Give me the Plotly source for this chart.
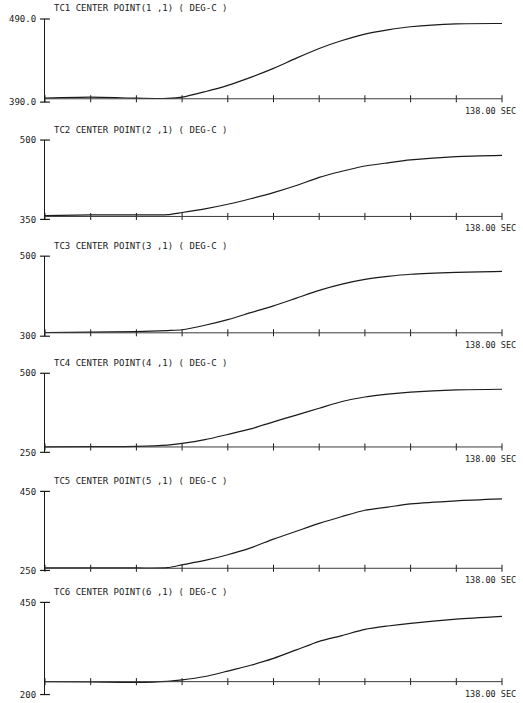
import plotly.graph_objects as go

# ---------------- data ----------------
TIME = [0, 13.8, 27.6, 37, 41.4, 48.3, 55.2, 62.1, 69, 75.9, 82.8, 89.7, 96.6, 103.5, 110.4, 124.2, 138]

TC1 = [394.8, 395.9, 394.8, 394.4, 395.9, 402.5, 410.2, 419.8, 430.6, 442.9, 454.5, 464.1, 471.8, 476.9, 480.7, 484.2, 484.6]
TC2 = [357.2, 358.4, 358.4, 359.0, 363.0, 370.0, 378.6, 389.0, 400.6, 414.0, 429.5, 441.0, 450.9, 457.0, 462.4, 468.8, 471.1]
TC3 = [309.3, 310.1, 311.6, 314.2, 316.2, 327.5, 341.5, 358.8, 375.9, 395.2, 414.6, 430.1, 441.8, 449.5, 454.9, 459.6, 461.9]
TC4 = [267.0, 268.0, 269.0, 273.0, 278.2, 290.0, 306.5, 324.0, 346.5, 367.9, 389.4, 410.8, 425.1, 434.2, 440.4, 447.5, 449.5]
TC5 = [256.3, 256.3, 256.3, 257.0, 264.2, 275.3, 289.6, 307.1, 329.3, 349.2, 369.0, 386.5, 402.3, 410.3, 418.2, 426.1, 430.9]
TC6 = [235.0, 234.1, 233.1, 235.9, 239.6, 248.9, 263.7, 279.4, 298.0, 321.1, 344.3, 360.0, 376.7, 385.9, 393.3, 404.4, 411.9]

SERIES = [TC1, TC2, TC3, TC4, TC5, TC6]
TITLES = [
    "TC1 CENTER POINT(1 ,1) ( DEG-C )",
    "TC2 CENTER POINT(2 ,1) ( DEG-C )",
    "TC3 CENTER POINT(3 ,1) ( DEG-C )",
    "TC4 CENTER POINT(4 ,1) ( DEG-C )",
    "TC5 CENTER POINT(5 ,1) ( DEG-C )",
    "TC6 CENTER POINT(6 ,1) ( DEG-C )",
]
Y_MIN = [390, 350, 300, 250, 250, 200]
Y_MAX = [490, 500, 500, 500, 450, 450]
Y_TICK_TEXT = [["390.0", "490.0"], ["350", "500"], ["300", "500"],
               ["250", "500"], ["250", "450"], ["200", "450"]]
BASELINE = [394.0, 355.6, 308.5, 267.0, 255.5, 235.0]
X_TICKS = [0, 13.8, 27.6, 41.4, 55.2, 69, 82.8, 96.6, 110.4, 124.2, 138]
END_LABEL = "138.00 SEC"

# ---------------- layout ----------------
W, H = 523, 703
PLOT_L, PLOT_R = 45, 502
PANEL_PX = [(14.2, 98.5), (137, 217.5), (254.8, 336), (373.6, 453.8), (493.4, 573.6), (606, 699.5)]
FONT = "DejaVu Sans Mono"
INK = "#1a1a1a"

fig = go.Figure()
layout = dict(
    width=W, height=H,
    margin=dict(l=PLOT_L, r=W - PLOT_R, t=0, b=0),
    paper_bgcolor="white", plot_bgcolor="white",
    showlegend=False,
    font=dict(family=FONT, size=9, color=INK),
)
annotations = []
shapes = []

for i, (ys, title) in enumerate(zip(SERIES, TITLES)):
    n = "" if i == 0 else str(i + 1)
    xa, ya = "x" + n, "y" + n
    top, bot = PANEL_PX[i]
    dom = [1 - bot / H, 1 - top / H]

    layout["xaxis" + n] = dict(domain=[0, 1], range=[0, 138], anchor=ya,
                                visible=False, fixedrange=True)
    layout["yaxis" + n] = dict(domain=dom, range=[Y_MIN[i], Y_MAX[i]], anchor=xa,
                                showgrid=False, zeroline=False,
                                showline=True, linecolor=INK, linewidth=1.2,
                                tickvals=[Y_MIN[i], Y_MAX[i]], ticktext=Y_TICK_TEXT[i],
                                ticks="outside", ticklen=6, tickcolor="rgba(0,0,0,0)",
                                tickfont=dict(family=FONT, size=9, color=INK),
                                fixedrange=True)

    # horizontal axis line at the starting level
    shapes.append(dict(type="line", xref=xa, yref=ya, x0=0, x1=138,
                       y0=BASELINE[i], y1=BASELINE[i],
                       line=dict(color="#3a3a3a", width=1)))
    # ticks on the horizontal axis
    fig.add_trace(go.Scatter(x=X_TICKS, y=[BASELINE[i]] * len(X_TICKS), xaxis=xa, yaxis=ya,
                             mode="markers", cliponaxis=False, hoverinfo="skip",
                             marker=dict(symbol="line-ns", size=5,
                                         line=dict(color=INK, width=1))))
    # crossbars at ends of vertical axis
    fig.add_trace(go.Scatter(x=[0, 0], y=[Y_MIN[i], Y_MAX[i]], xaxis=xa, yaxis=ya,
                             mode="markers", cliponaxis=False, hoverinfo="skip",
                             marker=dict(symbol="line-ew", size=7,
                                         line=dict(color=INK, width=1.2))))
    # the curve
    fig.add_trace(go.Scatter(x=TIME, y=ys, xaxis=xa, yaxis=ya, mode="lines",
                             line=dict(color=INK, width=1.2, shape="spline", smoothing=0.7),
                             cliponaxis=False))

    annotations.append(dict(text=title, xref="paper", yref=ya, x=7 / (PLOT_R - PLOT_L),
                            y=Y_MAX[i], yshift=10.5, xanchor="left", yanchor="middle",
                            showarrow=False, font=dict(family=FONT, size=9, color=INK)))
    annotations.append(dict(text=END_LABEL, xref=xa, yref=ya, x=138, xshift=16,
                            y=BASELINE[i], yshift=-12, xanchor="right", yanchor="middle",
                            showarrow=False, font=dict(family=FONT, size=8.5, color=INK)))

layout["annotations"] = annotations
layout["shapes"] = shapes
fig.update_layout(**layout)
fig.write_html("out.html", config={"displayModeBar": False},
               post_script="document.body.style.margin='0';document.body.style.overflow='hidden';")
